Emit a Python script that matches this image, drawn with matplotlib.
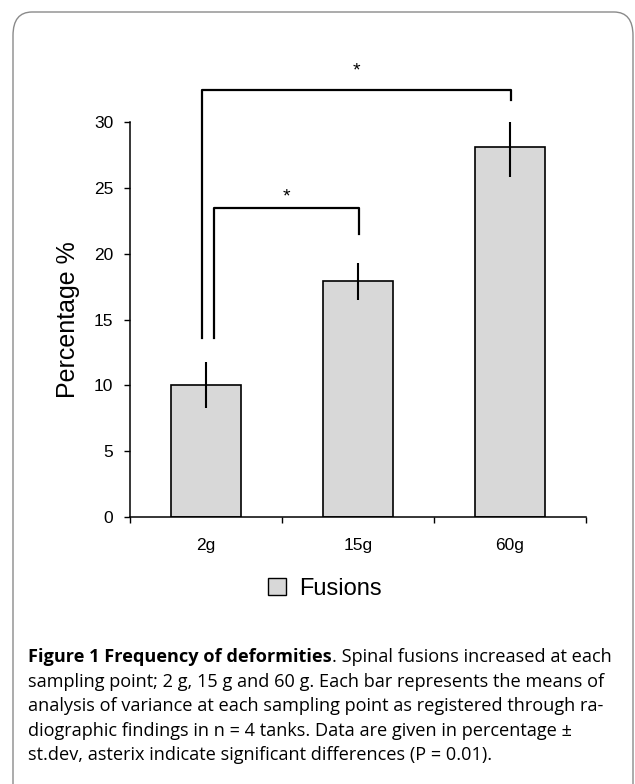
import matplotlib.pyplot as plt
from matplotlib.patches import FancyBboxPatch, Patch

# data
categories = ['2g', '15g', '60g']
fusions = [10.0, 17.9, 28.1]
stdev = [1.75, 1.4, 2.25]
yticks = [0, 5, 10, 15, 20, 25, 30]

# significance brackets: (bar a, bar b), top of bracket, bottom of left/right leg
sig_pairs = [(0, 1), (0, 2)]
bracket_top = [23.5, 32.4]
leg_left_bottom = [13.6, 13.6]
leg_right_bottom = [21.5, 31.7]
leg_left_shift = [0.055, -0.025]
star_y = [24.3, 33.9]

caption_bold = 'Figure 1 Frequency of deformities'
caption_lines = [
    '. Spinal fusions increased at each',
    'sampling point; 2 g, 15 g and 60 g. Each bar represents the means of',
    'analysis of variance at each sampling point as registered through ra-',
    'diographic findings in n = 4 tanks. Data are given in percentage \u00b1',
    'st.dev, asterix indicate significant differences (P = 0.01).',
]

W, H = 635, 784
fig = plt.figure(figsize=(W / 100, H / 100), dpi=100)
fig.patch.set_facecolor('white')

# rounded frame around the figure panel
frame = FancyBboxPatch((13 / W, -0.05), 620 / W, 1 - 12 / H + 0.05,
                       boxstyle='round,pad=0,rounding_size=0.03',
                       transform=fig.transFigure, fill=False,
                       edgecolor='#8a8a8a', linewidth=1.0, clip_on=False)
fig.patches.append(frame)

ax = fig.add_axes([130 / W, 1 - 517 / H, (586 - 130) / W, (517 - 122) / H])
x = list(range(len(categories)))
ax.bar(x, fusions, width=0.46, color='#d8d8d8', edgecolor='black', linewidth=1.2, zorder=2)
ax.errorbar(x, fusions, yerr=stdev, fmt='none', ecolor='black', elinewidth=1.5, capsize=0, zorder=3)

ax.set_xlim(-0.5, 2.5)
ax.set_ylim(0, 30)
ax.set_yticks(yticks)
ax.set_xticks(x)
ax.set_xticklabels(categories, fontsize=12.5, family='Liberation Sans')
ax.set_xticks([-0.5, 0.5, 1.5, 2.5], minor=True)
ax.tick_params(axis='x', which='major', length=0, pad=15)
ax.tick_params(axis='x', which='minor', length=4, direction='out', width=1)
ax.tick_params(axis='y', length=4, direction='out', width=1, labelsize=12.5, pad=8)
for lab in ax.get_yticklabels():
    lab.set_family('Liberation Sans')
for s in ['top', 'right']:
    ax.spines[s].set_visible(False)
ax.spines['left'].set_linewidth(1.1)
ax.spines['bottom'].set_linewidth(1.1)
ax.set_ylabel('Percentage %', fontsize=18, family='Liberation Sans', labelpad=10)

for k, (a, b) in enumerate(sig_pairs):
    xl = a + leg_left_shift[k]
    xr = b + 0.005
    ax.plot([xl, xl, xr, xr],
            [leg_left_bottom[k], bracket_top[k], bracket_top[k], leg_right_bottom[k]],
            color='black', linewidth=1.6, clip_on=False, zorder=4)
    ax.text((xl + xr) / 2, star_y[k], '*', ha='center', va='center',
            fontsize=14, family='Liberation Sans', clip_on=False)

leg = fig.legend(handles=[Patch(facecolor='#d8d8d8', edgecolor='black', linewidth=1.0,
                                label='Fusions')],
                 loc='center', bbox_to_anchor=(325 / W, 1 - 589 / H), frameon=False,
                 handlelength=0.75, handleheight=0.75, handletextpad=0.55,
                 prop={'family': 'Liberation Sans', 'size': 17})

# caption
fig.canvas.draw()
renderer = fig.canvas.get_renderer()
cap_font = 'Open Sans'
cap_size = 13.1
line_y = [657, 682, 706, 731, 755]
tb = fig.text(28 / W, 1 - line_y[0] / H, caption_bold, fontsize=cap_size, family=cap_font,
              weight='bold', va='center', ha='left')
bb = tb.get_window_extent(renderer)
fig.text(bb.x1 / W, 1 - line_y[0] / H, caption_lines[0], fontsize=cap_size, family=cap_font,
         va='center', ha='left')
for i in range(1, len(caption_lines)):
    fig.text(28 / W, 1 - line_y[i] / H, caption_lines[i], fontsize=cap_size, family=cap_font,
             va='center', ha='left')

fig.savefig('out.png', dpi=100)
